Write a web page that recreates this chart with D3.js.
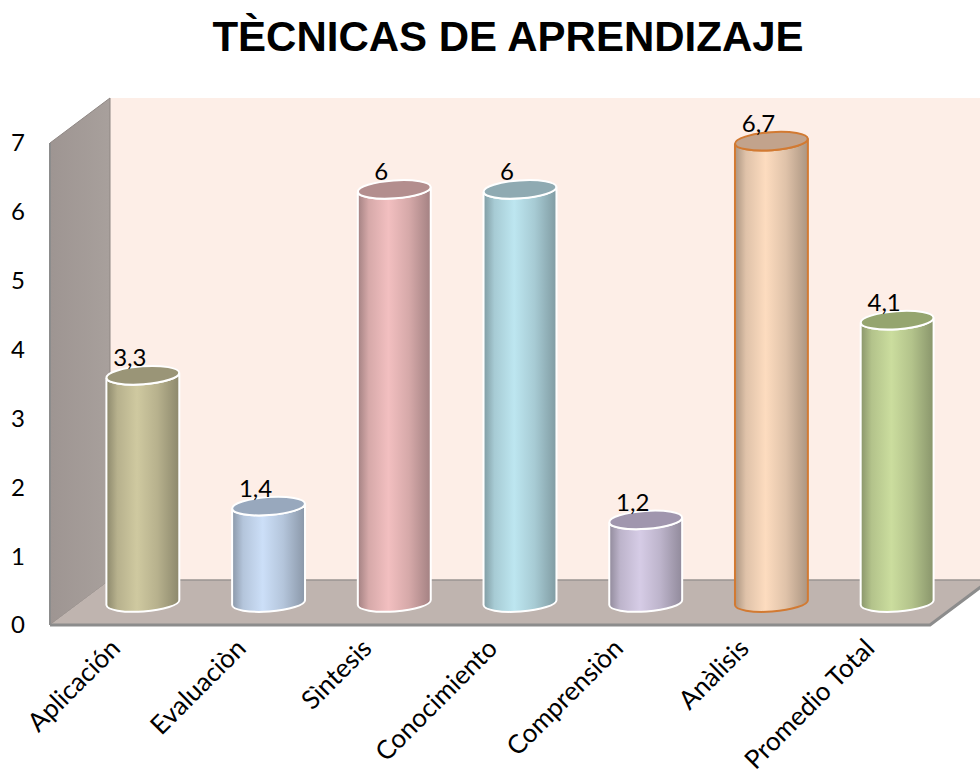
<!DOCTYPE html>
<html><head><meta charset="utf-8">
<script src="https://cdn.jsdelivr.net/npm/d3@7"></script>
<style>body{margin:0;background:#fff}svg{display:block}</style>
</head><body>
<svg id="c" width="980" height="778"></svg>
<script>
const title = "TÈCNICAS DE APRENDIZAJE";
const categories = ["Aplicación","Evaluaciòn","Sìntesis","Conocimiento","Comprensiòn","Anàlisis","Promedio Total"];
const values = [3.3, 1.4, 6, 6, 1.2, 6.7, 4.1];
const valueLabels = ["3,3","1,4","6","6","1,2","6,7","4,1"];
const yTicks = [0,1,2,3,4,5,6,7];
const barColors = ["#CFC9A0","#CCDFF8","#F2BFC0","#BDE6F0","#D6CCE6","#FDDCBF","#CBDD9E"];
const topColors = ["#9A9577","#98A8BD","#B38E8E","#8FAAB2","#A096AE","#C2A38C","#95A56F"];
const strokeColors = ["#fff","#fff","#fff","#fff","#fff","#D27A32","#fff"];

const svg = d3.select("#c");
const W = 980, H = 778;
const x = d3.scaleBand().domain(categories).range([50, 930]).paddingInner(0).paddingOuter(0);
const y = d3.scaleLinear().domain([0, 7]).range([625, 143]);
const DX = 60, DY = -45;
const defs = svg.append("defs");

// title
svg.append("text").attr("x", 508).attr("y", 51).attr("text-anchor", "middle")
  .attr("font-family", "Liberation Sans, Arial, sans-serif").attr("font-weight", "bold")
  .attr("font-size", 42).attr("fill", "#000").text(title);

const x0 = x.range()[0], x1 = x.range()[1];
const yb = y(0), yt = y(7);

// back wall
svg.append("path").attr("d", `M${x0+DX},${yt+DY} L${W+20},${yt+DY} L${W+20},${yb+DY} L${x0+DX},${yb+DY} Z`)
  .attr("fill", "#FDEEE7");
// left side wall
const lg = defs.append("linearGradient").attr("id","sideG").attr("x1","0").attr("x2","1").attr("y1","0").attr("y2","0");
lg.append("stop").attr("offset","0").attr("stop-color","#9E9592");
lg.append("stop").attr("offset","1").attr("stop-color","#A8A09C");
svg.append("path").attr("d", `M${x0},${yt} L${x0+DX},${yt+DY} L${x0+DX},${yb+DY} L${x0},${yb} Z`)
  .attr("fill", "url(#sideG)").attr("stroke","#8E8683").attr("stroke-width",1);
// floor
svg.append("path").attr("d", `M${x0},${yb} L${x0+DX},${yb+DY} L${x1+DX},${yb+DY} L${x1},${yb} Z`)
  .attr("fill", "#BFB4AF");
svg.append("path").attr("d", `M${x0+DX},${yb+DY} L${x1+DX+10},${yb+DY}`).attr("stroke","#9A9492").attr("stroke-width",1.5).attr("fill","none");
svg.append("path").attr("d", `M${x0},${yb} L${x1},${yb} L${x1+DX},${yb+DY}`).attr("stroke","#8C8C8C").attr("stroke-width",3).attr("fill","none");
svg.append("path").attr("d", `M${x0},${yt} L${x0},${yb}`).attr("stroke","#8C8C8C").attr("stroke-width",2).attr("fill","none");

// y tick labels
svg.append("g").selectAll("text").data(yTicks).join("text")
  .attr("x", 18).attr("y", d => y(d)).attr("dy", "0.35em").attr("text-anchor", "middle")
  .attr("font-family", "Lato, sans-serif").attr("font-size", 24).attr("fill", "#000")
  .text(d => d);

// bars (cylinders)
const bw = x.bandwidth() * 0.58;
const rx = bw / 2, ry = 9;
const rot = -4;
categories.forEach((c, i) => {
  const g = defs.append("linearGradient").attr("id", "bg" + i).attr("x1","0").attr("x2","1").attr("y1","0").attr("y2","0");
  const base = d3.color(barColors[i]);
  const dark = base.darker(1.1), mid = base.darker(0.35);
  g.append("stop").attr("offset","0").attr("stop-color", dark);
  g.append("stop").attr("offset","0.15").attr("stop-color", mid);
  g.append("stop").attr("offset","0.42").attr("stop-color", base);
  g.append("stop").attr("offset","0.7").attr("stop-color", mid);
  g.append("stop").attr("offset","1").attr("stop-color", dark);
});
const bars = svg.append("g");
categories.forEach((c, i) => {
  const cx = x(c) + x.bandwidth()/2 + DX/2;
  const by = y(0) + DY/2;
  const ty = y(values[i]) + DY/2;
  const g = bars.append("g");
  const a = rot * Math.PI/180;
  const dyL = -Math.sin(a)*rx, dyR = Math.sin(a)*rx;
  const d = `M${cx-rx},${ty+dyL} L${cx-rx},${by+dyL} A${rx},${ry} ${rot} 0 0 ${cx+rx},${by+dyR} L${cx+rx},${ty+dyR} A${rx},${ry} ${rot} 0 1 ${cx-rx},${ty+dyL} Z`;
  g.append("path").attr("d", d).attr("fill", `url(#bg${i})`)
    .attr("stroke", strokeColors[i]).attr("stroke-width", 2);
  g.append("ellipse").attr("cx", cx).attr("cy", ty).attr("rx", rx).attr("ry", ry)
    .attr("transform", `rotate(${rot},${cx},${ty})`)
    .attr("fill", topColors[i]).attr("stroke", strokeColors[i]).attr("stroke-width", 2);
  g.append("text").attr("x", cx - 13).attr("y", ty - 9).attr("text-anchor","middle")
    .attr("font-family", "Lato, sans-serif").attr("font-size", 24).attr("fill","#000")
    .text(valueLabels[i]);
});

// category labels
svg.append("g").selectAll("text").data(categories).join("text")
  .attr("transform", d => `translate(${x(d) + x.bandwidth()/2 + 9},${650}) rotate(-45)`)
  .attr("text-anchor", "end")
  .attr("font-family", "Lato, sans-serif").attr("font-size", 26).attr("fill", "#000")
  .text(d => d);
</script>
</body></html>
